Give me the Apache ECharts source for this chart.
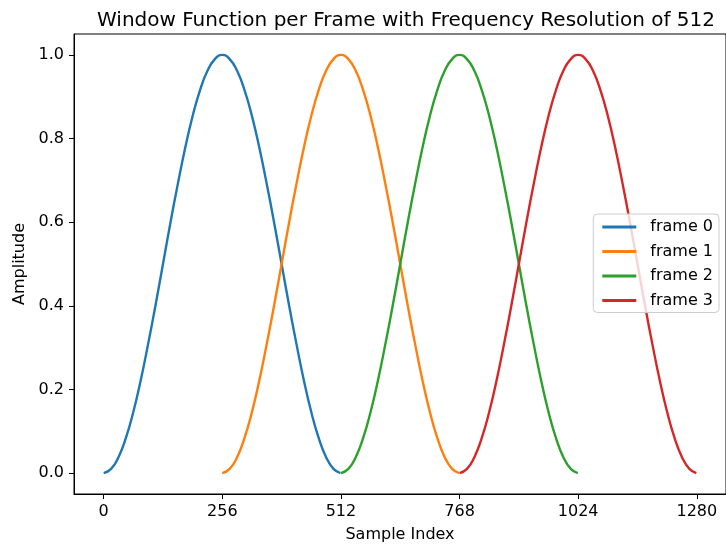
<!DOCTYPE html>
<html>
<head>
<meta charset="utf-8">
<script src="https://cdn.jsdelivr.net/npm/echarts@6/dist/echarts.min.js"></script>
<style>
  html, body { margin: 0; padding: 0; background: #fff; }
  #main { width: 726px; height: 548px; }
</style>
</head>
<body>
<div id="main"></div>
<script>
let myChart = echarts.init(document.getElementById('main'))

// window shape, one point every 16 samples
const windowPos = [0, 16, 32, 48, 64, 80, 96, 112, 128, 144, 160, 176, 192, 208, 224, 240, 256,
    272, 288, 304, 320, 336, 352, 368, 384, 400, 416, 432, 448, 464, 480, 496, 511]
const windowAmp = [0, 0.010, 0.038, 0.084, 0.146, 0.222, 0.309, 0.402, 0.5, 0.598, 0.691, 0.778, 0.854, 0.916, 0.962, 0.990, 1.0,
    0.990, 0.962, 0.916, 0.854, 0.778, 0.691, 0.598, 0.5, 0.402, 0.309, 0.222, 0.146, 0.084, 0.038, 0.010, 0]
const frameNames = ['frame 0', 'frame 1', 'frame 2', 'frame 3']
const frameStart = [0, 256, 512, 768]
const xTicks = [0, 256, 512, 768, 1024, 1280]
const yTicks = [0, 0.2, 0.4, 0.6, 0.8, 1.0]
const colors = ['#1f77b4', '#ff7f0e', '#2ca02c', '#d62728']

const font = 'DejaVu Sans'

let option = {
    backgroundColor: '#fff',
    color: colors,
    animation: false,
    title: {
        text: 'Window Function per Frame with Frequency Resolution of 512',
        left: 401,
        textAlign: 'center',
        top: 6,
        textStyle: {fontFamily: font, fontSize: 20, fontWeight: 'normal', color: '#000'}
    },
    legend: {
        orient: 'vertical',
        right: 7,
        top: 214,
        itemWidth: 34,
        itemHeight: 3,
        itemGap: 8.5,
        padding: [5, 6, 4, 9],
        borderColor: '#cccccc',
        borderWidth: 1,
        borderRadius: 4,
        backgroundColor: 'rgba(255,255,255,0.8)',
        icon: 'rect',
        textStyle: {fontFamily: font, fontSize: 16, lineHeight: 16, color: '#000', padding: [0, 0, 0, 9]},
        data: frameNames
    },
    grid: {
        left: 74, top: 34, width: 656, bottom: 52, containLabel: false,
        show: true, borderColor: '#000', borderWidth: 1
    },
    xAxis: {
        type: 'value',
        min: -64,
        max: 1343,
        name: 'Sample Index',
        nameLocation: 'middle',
        nameGap: 33,
        nameTextStyle: {fontFamily: font, fontSize: 16, color: '#000'},
        axisLine: {onZero: false, lineStyle: {color: '#000', width: 1}},
        axisTick: {customValues: xTicks, length: 5, lineStyle: {color: '#000'}},
        axisLabel: {customValues: xTicks, fontFamily: font, fontSize: 16, color: '#000', margin: 10,
            formatter: v => String(v)},
        splitLine: {show: false}
    },
    yAxis: {
        type: 'value',
        min: -0.05,
        max: 1.05,
        name: 'Amplitude',
        nameLocation: 'middle',
        nameGap: 44,
        nameRotate: 90,
        nameTextStyle: {fontFamily: font, fontSize: 16, color: '#000'},
        axisLine: {show: true, onZero: false, lineStyle: {color: '#000', width: 1}},
        axisTick: {show: true, customValues: yTicks, length: 5, lineStyle: {color: '#000'}},
        axisLabel: {customValues: yTicks, fontFamily: font, fontSize: 16, color: '#000', margin: 10,
            formatter: v => v.toFixed(1)},
        splitLine: {show: false}
    },
    series: frameNames.map((name, i) => ({
        name: name,
        type: 'line',
        smooth: true,
        showSymbol: false,
        lineStyle: {width: 2.4, color: colors[i]},
        data: windowPos.map((p, k) => [frameStart[i] + p, windowAmp[k]])
    }))
}

myChart.setOption(option)
</script>
</body>
</html>
